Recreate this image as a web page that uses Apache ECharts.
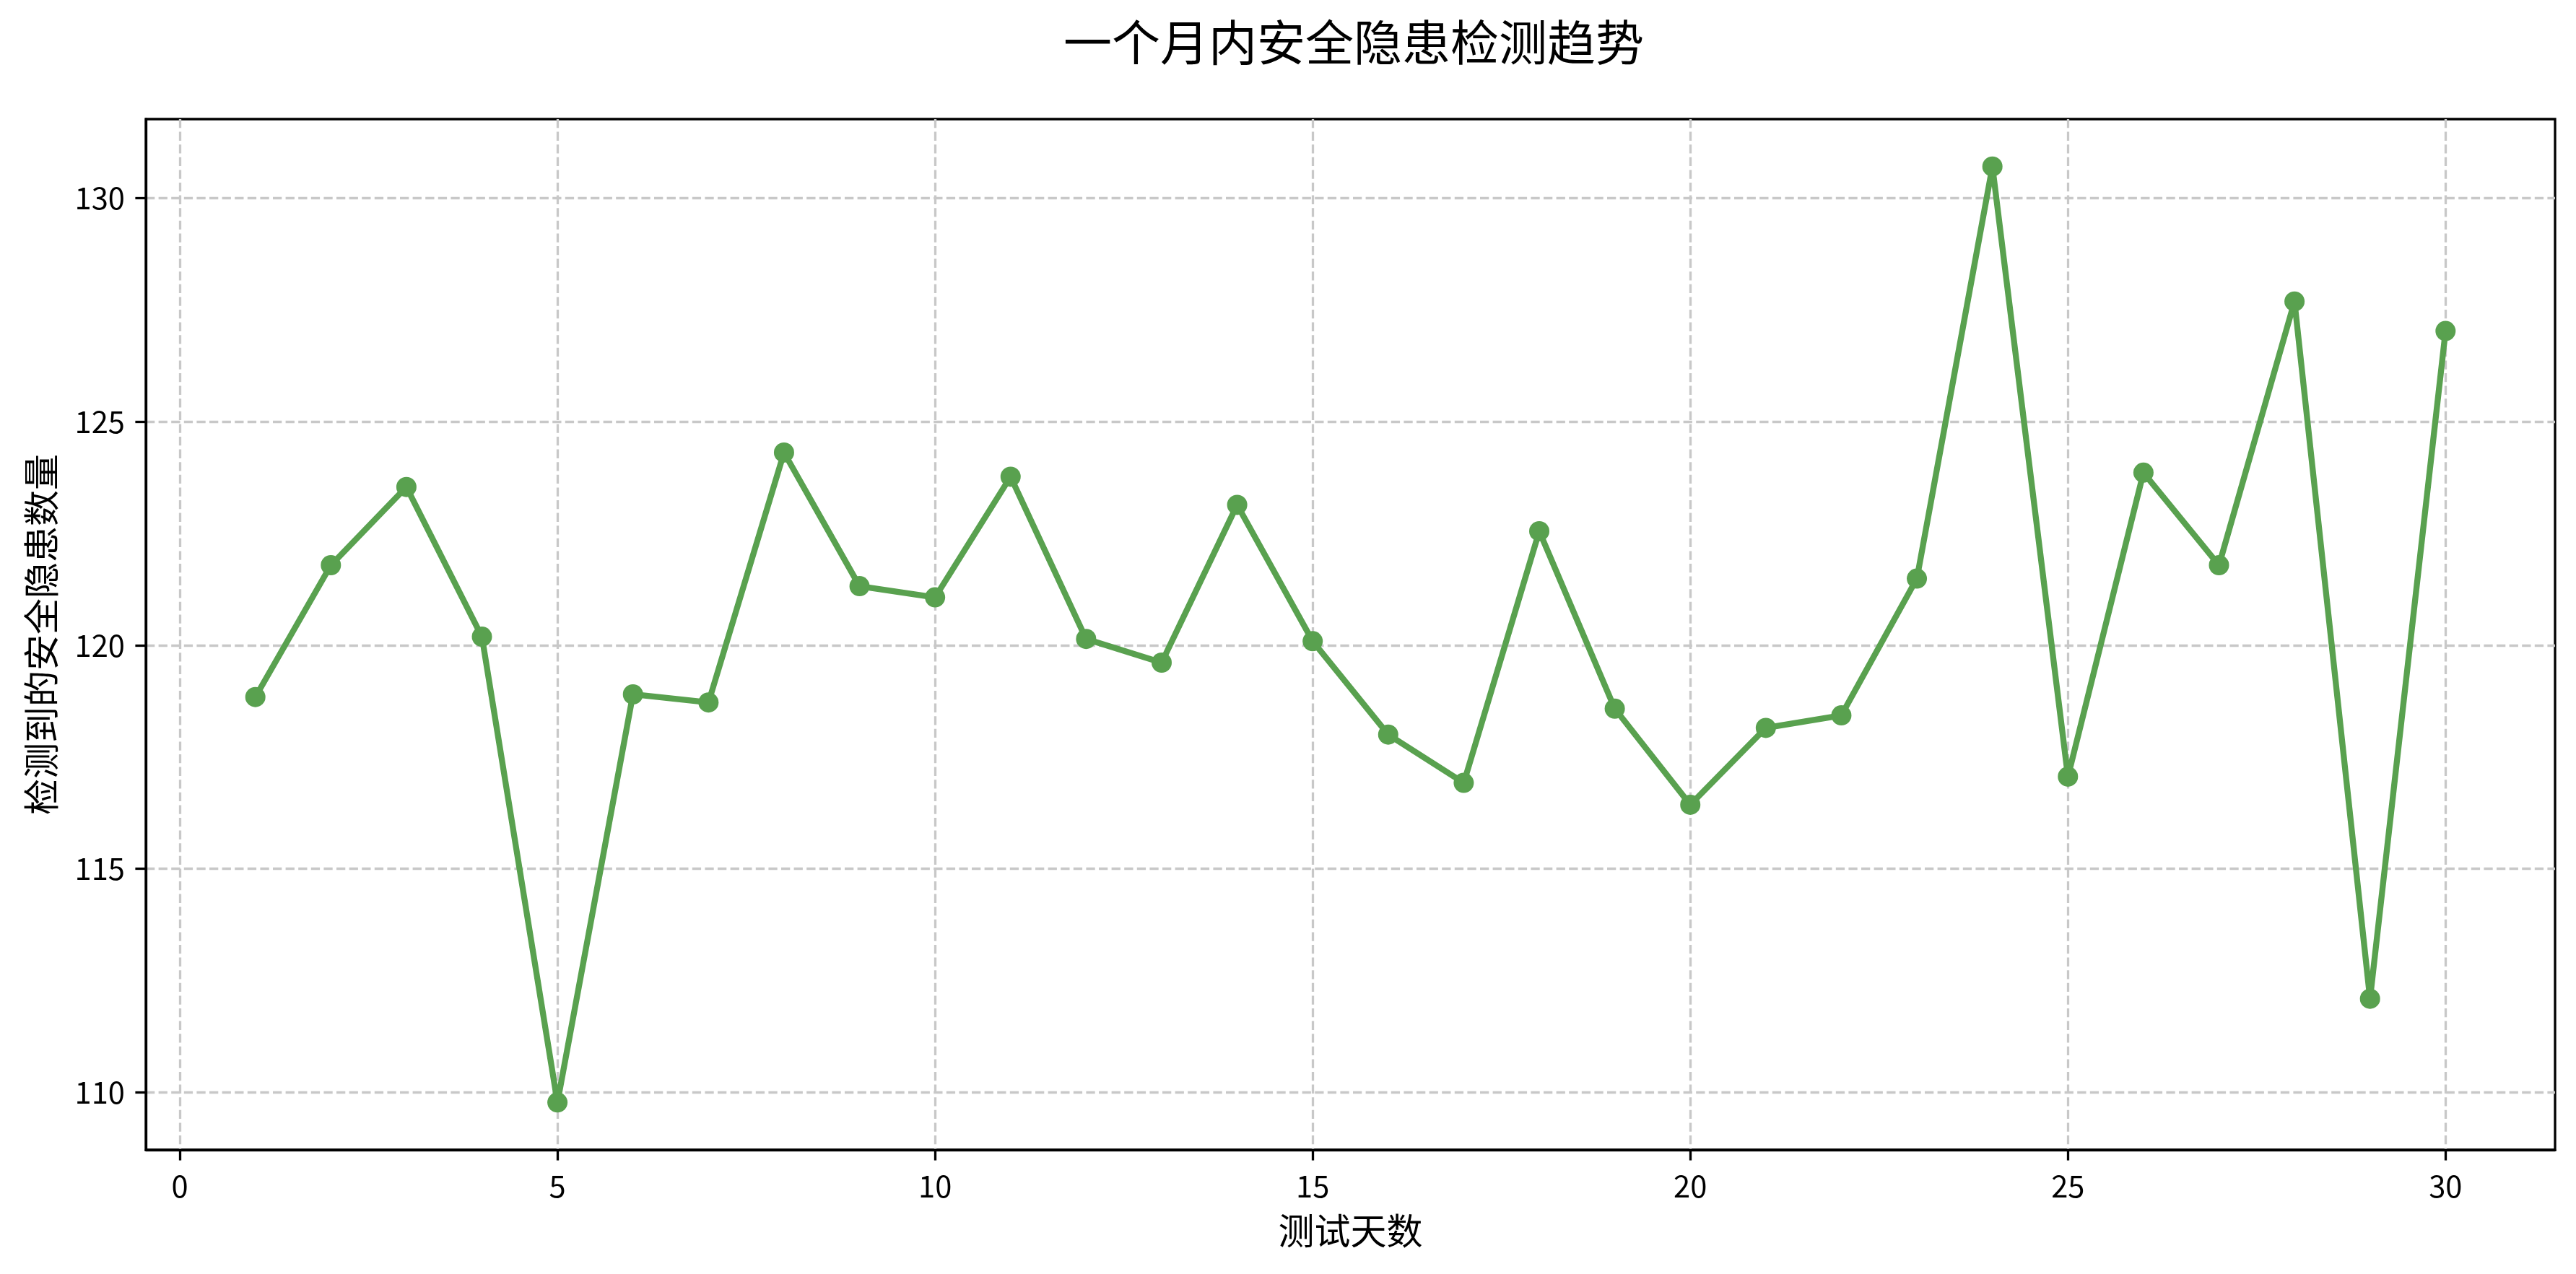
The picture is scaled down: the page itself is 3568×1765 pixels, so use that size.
<!DOCTYPE html>
<html>
<head>
<meta charset="utf-8">
<script src="https://cdn.jsdelivr.net/npm/echarts@6/dist/echarts.min.js"></script>
<style>
html,body{margin:0;padding:0;background:#fff;}
#chart{width:3568px;height:1765px;}
</style>
</head>
<body>
<div id="chart"></div>
<script>
const titleText = '一个月内安全隐患检测趋势';
const xAxisName = '测试天数';
const yAxisName = '检测到的安全隐患数量';
const days = [1,2,3,4,5,6,7,8,9,10,11,12,13,14,15,16,17,18,19,20,21,22,23,24,25,26,27,28,29,30];
const hazards = [118.84,121.79,123.54,120.19,109.77,118.90,118.72,124.31,121.32,121.07,123.77,120.14,119.61,123.14,120.09,118.00,116.92,122.55,118.58,116.43,118.15,118.43,121.49,130.71,117.06,123.86,121.79,127.69,112.09,127.03];
const xTicks = [0,5,10,15,20,25,30];
const yTicks = [110,115,120,125,130];

const FONT = '"Noto Sans CJK SC", "Noto Sans", sans-serif';
const chart = echarts.init(document.getElementById('chart'), null, {renderer:'canvas', width:3568, height:1765});
const gridLine = {show:true, lineStyle:{color:'#c8c8c8', width:3.3, type:[12.3,5.3]}};
const axisLine = {show:true, onZero:false, lineStyle:{color:'#000', width:3.3}};
const axisTick = {show:true, length:14.6, lineStyle:{color:'#000', width:3.3}};

chart.setOption({
  backgroundColor:'#fff',
  animation:false,
  title:{
    text:titleText, left:1870, top:20, textAlign:'center',
    textStyle:{fontFamily:FONT, fontSize:67, fontWeight:'normal', color:'#000'}
  },
  grid:{left:202, right:29, top:165, bottom:172, show:true, borderColor:'#000', borderWidth:3.3, backgroundColor:'transparent'},
  xAxis:{
    type:'value', min:-0.45, max:31.45,
    name:xAxisName, nameLocation:'middle', nameGap:87,
    nameTextStyle:{fontFamily:FONT, fontSize:50, color:'#000'},
    axisLine:axisLine,
    axisTick:Object.assign({customValues:xTicks}, axisTick),
    axisLabel:{customValues:xTicks, margin:29, fontFamily:FONT, fontSize:41.7, color:'#000'},
    splitLine:gridLine
  },
  yAxis:{
    type:'value', min:108.71, max:131.77,
    name:yAxisName, nameLocation:'middle', nameGap:120,
    nameTextStyle:{fontFamily:FONT, fontSize:50, color:'#000'},
    axisLine:axisLine,
    axisTick:Object.assign({customValues:yTicks}, axisTick),
    axisLabel:{customValues:yTicks, margin:29, fontFamily:FONT, fontSize:41.7, color:'#000'},
    splitLine:gridLine
  },
  series:[{
    type:'line',
    data:days.map((d,i)=>[d, hazards[i]]),
    symbol:'circle', symbolSize:28,
    lineStyle:{color:'#59A14F', width:8.3},
    itemStyle:{color:'#59A14F'},
    z:3
  }]
});
</script>
</body>
</html>
